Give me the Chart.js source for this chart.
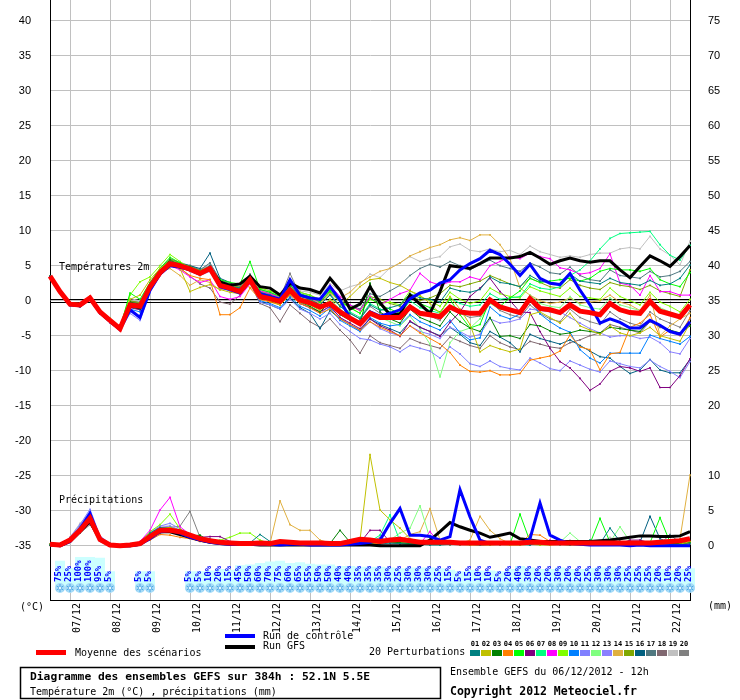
<!DOCTYPE html>
<html><head><meta charset="utf-8">
<script src="https://cdn.jsdelivr.net/npm/chart.js@4.4.1/dist/chart.umd.min.js"></script>
<style>html,body{margin:0;padding:0;background:#fff}canvas{display:block}</style>
</head><body>
<canvas id="c" width="740" height="700"></canvas>
<script>
// ---- categories ----
const leadHours = [0,6,12,18,24,30,36,42,48,54,60,66,72,78,84,90,96,102,108,114,120,126,132,138,144,150,156,162,168,174,180,186,192,198,204,210,216,222,228,234,240,246,252,258,264,270,276,282,288,294,300,306,312,318,324,330,336,342,348,354,360,366,372,378,384];
const dateLabels = ['07/12','08/12','09/12','10/12','11/12','12/12','13/12','14/12','15/12','16/12','17/12','18/12','19/12','20/12','21/12','22/12'];
const leftTicks = [-35,-30,-25,-20,-15,-10,-5,0,5,10,15,20,25,30,35,40];
const rightTicks = [0,5,10,20,25,30,35,40,45,50,55,60,65,70,75];
const pctRain = [null,75,25,100,100,95,5,null,null,5,5,null,null,null,5,5,10,20,15,45,50,60,70,75,60,65,55,50,50,40,40,35,35,35,30,25,30,30,30,25,15,5,15,10,10,5,20,40,30,20,20,30,20,20,25,30,30,30,25,25,25,20,10,20,25];

// ---- temperature 2m (°C) ----
const tMean = [3.5,1.3,-0.5,-0.6,0.4,-1.6,-2.8,-4.0,-0.6,-0.8,2.0,4.0,5.3,5.0,4.5,3.9,4.6,2.2,1.8,1.3,3.0,
 0.6,0.3,-0.1,1.5,0.1,-0.3,-0.9,-0.4, -1.6,-2.5,-3.3,-1.8,-2.4,-2.4,-2.4,-0.9, -1.8,-2.0,-2.3,-0.9,-1.6,-1.8,-1.8,0.1, -0.9,-1.3,-1.7,0.3,-1.1,-1.3,-1.7,-0.6, -1.5,-1.7,-2.0,-0.4,-1.3,-1.7,-1.8,-0.1, -1.5,-1.9,-2.3,-0.6];
const tControl = [3.5,1.3,-0.6,-0.7,0.3,-1.7,-2.9,-4.1,-1.3,-2.4,1.5,3.8,5.0,4.8,4.4,3.8,4.7,2.0,1.6,1.1,3.0,
 1.0,0.6,0.2,3.0,0.8,0.4,0.2,2.0, 0.1,-2.5,-3.2,-1.6,-2.2,-1.8,-1.3,0.3, 1.1,1.5,2.5,3.0,4.4,5.3,6.0,7.2, 6.6,5.2,3.6,5.2,3.2,2.5,2.3,3.9, 1.5,-0.6,-3.2,-2.6,-3.1,-3.9,-3.9,-2.8, -3.5,-4.4,-4.8,-3.0];
const tGfs = [3.5,1.2,-0.5,-0.7,0.3,-1.6,-2.9,-4.1,-0.7,-1.0,1.8,3.9,5.1,4.8,4.5,3.9,4.6,2.7,2.2,2.4,3.5,
 2.0,1.8,0.8,2.5,1.8,1.6,1.1,3.2, 1.5,-1.2,-0.5,2.0,-0.3,-2.0,-1.9,0.8, -0.5,-1.8,1.3,5.0,4.8,4.6,5.3,6.1, 6.1,6.1,6.3,6.9,6.1,5.2,5.7,6.1, 5.7,5.5,5.7,5.7,4.4,3.3,4.9,6.4, 5.7,4.9,6.3,7.9];
const t01 = [3.5,1.2,-0.6,-0.8,0.2,-1.8,-3.0,-4.1,-0.9,-1.2,1.6,4.2,5.6,5.2,4.6,4.0,5.0,2.6,2.0,1.8,3.4,
 1.2,0.8,0.2,2.0,0.6,0.2,-0.6,0.8, -0.8,-1.8,-2.6,-0.6,-1.4,-1.0,-0.6,1.0, 0.4,0.2,-0.2,1.8,1.4,1.2,1.6,3.4, 2.6,2.4,2.0,3.6,2.8,2.6,2.4,3.8, 2.8,2.6,2.4,3.2,2.6,2.4,2.2,2.9, 2.2,2.4,3.2,5.1];
const t02 = [3.5,1.4,-0.4,-0.5,0.6,-1.4,-2.6,-3.8,0.2,0.8,3.0,4.6,5.6,4.6,1.3,1.9,2.3,1.6,1.2,1.0,2.6,
 0.4,0.0,-0.6,1.0,-0.2,-0.6,-1.4,0.2, -0.6,0.6,2.0,3.0,3.2,2.6,2.2,1.4, 0.8,-0.4,-1.8,0.6,-1.2,-3.4,-7.3,-6.4, -6.9,-7.3,-6.9,-2.0,-1.6,-2.4,-3.2,-1.8, -3.6,-4.2,-4.8,-3.6,-4.6,-5.0,-4.6,-3.8, -5.0,-5.4,-5.8,-3.2];
const t03 = [3.5,1.3,-0.5,-0.7,0.5,-1.5,-2.9,-4.1,-0.2,-0.5,2.2,4.4,5.8,5.1,4.8,4.1,4.9,2.8,2.2,1.6,3.6,
 0.8,0.4,-0.4,1.2,-0.2,-0.8,-1.6,-0.2, -2.0,-2.8,-3.4,2.5,-1.6,-2.6,-3.2,-1.2, -2.4,-3.0,-3.6,-1.6,-3.0,-3.9,-4.4,-2.4, -5.1,-5.0,-5.4,-3.4,-3.6,-4.3,-4.8,-4.6, -4.2,-4.4,-4.6,-3.8,-4.0,-4.2,-4.4,-2.8, -3.6,-4.2,-4.6,-3.6];
const t04 = [3.5,1.3,-0.6,-0.6,0.3,-1.7,-2.9,-4.0,-0.8,-1.0,1.8,3.8,5.0,4.6,3.6,3.2,3.0,-2.0,-2.0,-1.0,1.8,
 0.2,-0.2,-0.6,0.8,-0.4,-1.0,-1.8,-1.2, -2.6,-3.4,-4.2,-3.0,-3.8,-4.4,-5.0,-3.6, -4.6,-5.4,-6.2,-7.4,-9.2,-10.1,-10.2,-10.0, -10.6,-10.6,-10.4,-8.5,-8.2,-7.9,-7.2,-4.9, -6.6,-7.0,-9.9,-7.6,-7.4,-3.8,-3.2,-2.0, -5.2,-4.2,-5.0,-2.4];
const t05 = [3.5,1.4,-0.4,-0.5,0.5,-1.5,-2.7,-3.9,1.1,0.2,2.6,4.6,6.2,5.4,4.7,4.2,4.8,3.0,2.6,2.4,5.6,
 1.6,1.2,0.6,2.2,1.0,0.6,-0.2,1.4, 0.0,-1.0,-1.8,0.4,-0.6,-1.2,-1.8,0.6, -0.4,-1.0,-1.6,0.2,-2.0,-3.9,-3.4,0.1, -0.8,0.4,1.4,3.2,2.6,2.8,3.0,3.2, 2.8,3.2,4.2,4.6,4.4,4.4,4.2,4.6, 3.0,2.4,2.0,4.0];
const t06 = [3.5,1.2,-0.7,-0.8,0.2,-1.8,-3.1,-4.2,-1.0,-1.3,1.7,3.9,5.2,4.9,4.4,3.8,4.5,2.0,1.6,1.0,2.8,
 0.4,0.0,-0.6,1.0,-0.4,-1.0,-1.6,-0.8, -2.4,-3.2,-4.0,-2.6,-3.6,-4.2,-5.1,-2.9, -3.8,-4.4,-5.1,-3.1,-1.6,0.6,1.8,3.2, 1.3,0.0,-1.6,-1.7,-4.4,-6.8,-8.7,-9.6, -11.1,-12.8,-11.9,-10.1,-9.4,-9.6,-10.1,-9.6, -12.4,-12.4,-10.7,-8.3];
const t07 = [3.5,1.3,-0.5,-0.6,0.4,-1.6,-2.8,-4.0,-0.4,-0.6,2.3,4.2,5.4,5.0,4.3,3.6,4.4,2.4,1.9,1.5,3.2,
 1.0,0.6,0.0,1.8,0.4,0.0,-0.6,0.8, -0.8,-1.6,-2.4,-0.4,-1.2,-1.6,-2.0,0.0, -1.0,-1.4,-1.8,0.4,-0.4,-0.8,-0.6,1.0, 0.2,0.4,0.6,2.4,1.8,1.6,2.0,3.6, 4.4,5.7,7.4,8.9,9.6,9.7,9.8,9.9, 8.0,6.5,5.8,7.9];
const t08 = [3.5,1.4,-0.5,-0.6,0.5,-1.6,-2.8,-4.0,-0.3,-0.5,2.0,4.0,5.0,4.4,3.4,2.6,3.0,0.6,0.2,0.6,2.4,
 1.4,1.0,0.4,2.2,0.8,0.4,-0.2,2.2, 0.6,-0.6,-1.4,0.6,-0.6,0.2,1.0,1.5, 3.9,2.7,2.2,2.7,2.7,3.4,3.0,5.0, 5.6,6.3,6.0,6.8,6.3,6.0,4.7,4.4, 3.8,4.0,4.6,6.7,2.5,2.2,0.8,3.6, 1.3,1.3,0.8,0.8];
const t09 = [3.5,1.4,-0.3,-0.4,0.7,-1.3,-2.5,-3.7,0.8,2.7,3.4,5.0,6.6,5.6,4.6,3.8,4.4,2.2,1.5,1.4,3.0,
 1.8,1.4,0.8,2.6,1.2,0.8,0.2,1.6, -0.2,-1.0,-1.8,0.2,-0.4,-0.2,-0.6,1.4, 0.6,0.0,-0.8,1.2,0.2,-0.4,0.0,1.8, 1.0,0.6,0.4,2.0,1.4,1.0,0.6,1.8, 0.6,0.4,0.2,1.8,0.6,0.0,-0.6,1.2, -0.2,-0.8,-1.6,0.2];
const t10 = [3.5,1.2,-0.6,-0.7,0.3,-1.7,-3.0,-4.1,-1.2,-1.6,1.5,3.9,5.2,5.0,4.6,3.9,4.7,2.4,1.8,1.2,2.9,
 0.0,-0.4,-1.0,0.6,-0.8,-1.4,-2.2,-1.0, -2.8,-3.6,-4.4,-2.4,-3.2,-3.6,-3.4,-2.0, -3.0,-3.6,-4.2,-2.8,-4.6,-5.6,-5.3,-0.9, -2.1,-2.6,-1.9,0.1,-1.9,-3.0,-3.9,-4.5, -7.0,-8.2,-8.9,-7.5,-7.5,-7.5,-7.5,-4.9, -5.4,-5.8,-6.2,-5.1];
const t11 = [3.5,1.2,-0.7,-0.9,0.2,-1.9,-3.2,-4.3,-1.8,-2.8,1.2,3.6,5.0,4.8,4.2,3.6,4.2,1.8,1.4,0.9,2.7,
 -0.2,-0.6,-1.2,0.2,-1.2,-1.8,-2.6,-1.8, -3.4,-4.4,-5.4,-5.6,-6.2,-6.6,-7.3,-6.4, -6.8,-7.2,-8.2,-6.6,-7.6,-9.0,-9.4,-8.6, -9.4,-9.7,-9.9,-8.2,-8.9,-9.7,-10.0,-8.6, -9.2,-9.8,-10.2,-8.6,-9.0,-9.4,-9.6,-8.5, -9.4,-10.1,-11.0,-8.7];
const t12 = [3.5,1.3,-0.5,-0.6,0.4,-1.6,-2.8,-4.0,-0.5,-0.7,2.1,4.1,5.4,5.0,4.5,3.9,4.5,2.1,1.7,1.3,3.1,
 0.8,0.4,-0.2,1.4,0.0,-0.6,-1.2,0.2, -1.2,-2.2,-3.0,-1.4,-2.4,-3.0,-3.6,-2.2, -4.0,-6.2,-10.9,-6.0,-4.4,-3.9,-2.6,-0.4, -1.2,-1.4,-1.8,0.8,-0.4,-0.8,-1.0,0.6, -0.6,-1.0,-1.2,0.4,-0.6,-1.0,-1.4,0.2, -1.0,-1.6,-2.2,-0.8];
const t13 = [3.5,1.2,-0.6,-0.8,0.3,-1.8,-3.0,-4.2,-1.5,-2.2,1.4,3.8,5.1,4.8,4.3,3.7,4.3,1.9,1.5,1.0,2.6,
 0.6,0.2,-0.4,1.2,-0.4,-1.0,-1.8,-0.8, -2.4,-3.4,-4.4,-3.0,-4.0,-4.6,-5.0,-3.6, -4.4,-4.8,-5.4,-3.8,-4.4,-5.2,-4.8,-2.6, -3.2,-3.0,-2.6,-1.2,-1.4,-1.6,-1.6,-2.4, -3.2,-4.0,-4.6,-5.2,-5.0,-5.0,-5.4,-5.2, -6.0,-7.3,-7.6,-5.4];
const t14 = [3.5,1.4,-0.4,-0.5,0.5,-1.5,-2.7,-3.9,-0.3,-0.4,2.2,4.1,4.6,3.6,2.2,3.0,2.6,1.5,2.0,2.5,1.9,
 1.2,0.8,0.2,1.8,0.6,0.2,-0.4,1.0, 0.4,1.2,2.6,3.4,4.2,4.6,5.4,6.4, 7.0,7.6,8.0,8.7,9.0,8.6,9.4,9.4, 8.0,6.0,1.8,0.8,0.0,-0.4,-0.2,0.4, -0.4,-0.2,0.0,0.8,-0.2,-0.6,-1.4,0.8, -5.0,-3.6,-2.6,-1.8];
const t15 = [3.5,1.3,-0.5,-0.6,0.4,-1.6,-2.8,-4.0,0.0,-0.3,2.4,4.5,5.9,5.3,4.9,4.3,4.9,2.7,2.3,1.9,3.4,
 1.4,1.0,0.4,2.0,0.8,0.4,-0.2,1.2, -0.2,-0.8,-1.4,0.6,0.2,-0.4,-0.8,1.0, 0.0,0.4,1.0,2.2,2.0,2.4,2.8,3.6, 3.0,2.4,2.0,3.2,2.6,2.0,1.8,3.0, 2.2,1.8,1.6,2.6,2.2,2.0,1.6,2.2, 1.4,1.0,0.6,4.4];
const t16 = [3.5,1.3,-0.5,-0.7,0.4,-1.6,-2.9,-4.0,-0.6,-0.8,2.0,4.1,5.5,5.3,5.0,4.6,6.8,3.2,2.6,1.7,3.5,
 -0.2,-0.6,-1.2,0.4,-1.0,-1.8,-4.0,-1.4, -2.6,-3.4,-4.2,-2.6,-3.4,-4.0,-4.6,-3.0, -3.8,-4.4,-5.0,-3.8,-4.8,-6.0,-6.4,-4.4, -5.2,-6.0,-7.3,-4.8,-5.4,-5.8,-6.2,-5.6, -6.4,-7.2,-8.0,-8.2,-9.4,-10.4,-9.9,-8.4, -9.9,-10.3,-10.3,-8.4];
const t17 = [3.5,1.3,-0.4,-0.5,0.5,-1.5,-2.7,-3.9,-0.1,-0.2,2.5,4.6,6.0,5.4,5.0,4.4,5.4,3.0,2.4,2.0,3.8,
 1.6,1.2,0.6,2.4,1.2,0.8,0.0,1.6, 0.2,-0.6,-1.2,1.0,0.6,1.4,2.2,3.6, 4.6,5.2,4.8,5.6,5.0,4.4,5.2,5.8, 5.0,4.6,4.2,5.4,4.8,4.0,3.8,4.8, 3.6,3.0,2.8,4.4,3.6,3.4,3.2,4.2, 3.4,3.6,4.2,5.6];
const t18 = [3.5,1.2,-0.6,-0.8,0.3,-1.7,-2.9,-4.1,-0.8,-1.0,1.9,3.9,5.0,4.7,3.5,2.4,1.8,-0.2,-0.5,0.8,2.5,
 -0.4,-1.0,-3.0,-0.6,-1.8,-3.0,-3.8,-2.6, -4.2,-5.6,-7.5,-5.0,-6.0,-6.4,-6.8,-5.4, -6.0,-6.4,-6.8,-5.2,-5.8,-6.4,-6.8,-5.0, -6.0,-6.6,-7.0,-5.8,-6.2,-6.6,-6.8,-6.0, -5.6,-5.0,-4.6,-3.4,-3.8,-4.2,-4.6,-3.0, -3.8,-4.2,-4.8,-2.6];
const t19 = [3.5,1.4,-0.4,-0.4,0.6,-1.4,-2.6,-3.8,0.3,0.0,2.6,4.6,6.0,5.5,5.0,4.5,5.2,3.0,2.5,2.1,3.6,
 1.8,1.4,0.8,2.8,1.4,1.2,0.8,2.4, 1.4,2.0,2.4,3.8,3.3,4.7,5.4,6.3, 5.6,6.0,6.3,7.7,8.1,7.2,7.0,7.4, 7.0,7.2,6.6,7.8,7.0,6.6,6.2,6.4, 6.2,6.6,6.8,6.8,7.4,7.6,7.4,9.2, 7.4,6.5,5.1,8.5];
const t20 = [3.5,1.3,-0.5,-0.6,0.4,-1.6,-2.8,-4.0,-0.2,-0.4,2.2,4.3,5.7,5.2,4.9,4.4,5.1,2.9,2.3,1.8,3.3,
 1.2,1.0,0.4,3.9,0.8,0.2,-0.4,1.0, -0.8,-1.8,-2.6,-0.8,-1.8,-2.2,-2.6,-0.6, -1.6,-2.2,-2.8,-0.8,-1.8,-2.4,-2.2,-0.2, -1.4,-2.0,-2.4,-0.6,-1.8,-2.6,-3.0,-1.2, -2.4,-3.0,-3.4,-1.6,-2.6,-3.2,-3.6,-1.6, -2.6,-3.2,-3.8,-1.4];

// ---- precipitation (mm) ----
const pMean = [0.2,0.1,0.8,2.2,3.9,0.9,0.1,0.0,0.1,0.3,1.3,2.2,2.2,2.0,1.5,1.0,0.7,0.5,0.4,0.3,0.3,
 0.4,0.3,0.6,0.5,0.4,0.4,0.4,0.3, 0.3,0.6,0.9,0.8,0.6,0.8,0.9,0.7, 0.5,0.5,0.5,0.5,0.4,0.4,0.4,0.4, 0.4,0.4,0.4,0.5,0.5,0.4,0.4,0.4, 0.4,0.4,0.4,0.4,0.4,0.4,0.4,0.4, 0.5,0.6,0.7,1.0];
const pControl = [0.1,0.0,0.6,2.4,4.6,0.8,0.1,0.0,0.0,0.2,1.0,2.0,2.2,1.8,1.2,0.8,0.5,0.3,0.2,0.2,0.2,
 0.2,0.2,0.1,0.2,0.2,0.1,0.1,0.1, 0.1,0.2,0.3,0.5,0.8,3.2,5.3,1.5, 1.5,1.3,0.8,1.3,8.0,4.1,0.8,0.3, 0.3,0.3,0.3,1.0,6.1,1.5,0.8,0.3, 0.2,0.1,0.1,0.1,0.1,0.0,0.1,0.0, 0.0,0.0,0.0,0.0];
const pGfs = [0.2,0.0,0.6,2.0,3.5,0.8,0.1,0.0,0.0,0.2,1.2,2.0,2.0,1.6,1.2,0.8,0.5,0.3,0.2,0.2,0.2,
 0.1,0.1,0.1,0.1,0.1,0.1,0.1,0.1, 0.1,0.1,0.1,0.1,0.0,0.0,0.0,0.0, 0.0,0.8,2.0,3.3,2.7,2.2,1.8,1.2, 1.5,1.8,1.0,0.8,0.6,0.6,0.6,0.6, 0.6,0.6,0.7,0.8,1.0,1.2,1.4,1.4, 1.3,1.3,1.4,2.0];
const p01 = [0.1,0.0,1.0,2.6,4.2,1.2,0.3,0.0,0.0,0.3,1.8,2.6,2.4,2.0,1.2,0.8,0.5,0.4,0.3,0.2,0.4,
 1.6,0.6,0.3,0.2,0.2,0.3,0.1,0.2, 0.3,0.2,0.1,0.1,0.2,0.4,0.3,0.2, 0.2,0.1,0.1,0.2,0.3,0.2,0.1,0.2, 0.3,0.4,0.2,0.1,0.5,0.3,0.2,0.1, 0.4,0.8,0.3,2.5,0.6,0.3,0.2,0.1, 0.3,0.2,0.1,0.3];
const p02 = [0.2,0.0,0.9,2.0,3.6,1.0,0.2,0.0,0.0,0.2,1.0,2.4,2.6,2.2,1.4,0.9,0.6,0.4,0.2,0.1,0.2,
 0.2,0.1,0.1,0.3,0.2,0.2,0.1,0.3, 0.3,0.5,0.8,13.0,5.1,3.7,2.5,1.0, 0.6,0.4,0.3,0.2,0.2,0.1,0.1,0.1, 0.2,0.1,0.1,0.2,0.1,0.1,0.2,0.1, 0.1,0.2,0.1,0.1,0.2,0.1,0.1,0.2, 0.1,0.1,0.2,0.6];
const p03 = [0.1,0.0,0.7,2.0,3.4,0.8,0.2,0.0,0.0,0.3,1.6,2.0,2.0,1.8,1.4,1.5,0.6,0.4,0.3,0.3,0.3,
 0.3,0.2,0.2,0.2,0.3,0.2,0.2,0.3, 2.2,0.5,0.3,0.4,0.6,0.6,0.4,0.3, 0.3,0.2,0.2,0.3,0.2,0.2,0.3,0.2, 0.2,0.3,0.2,0.3,0.2,0.2,0.3,0.2, 0.3,0.2,0.5,0.3,0.2,0.3,0.2,0.3, 0.4,0.3,0.3,0.5];
const p04 = [0.1,0.0,0.8,2.4,3.8,1.0,0.2,0.0,0.0,0.2,0.8,1.6,1.5,1.2,1.0,0.6,0.4,0.3,0.2,0.2,0.2,
 0.2,0.1,0.2,0.1,0.2,0.2,0.1,0.2, 0.1,0.2,0.3,0.4,0.3,0.6,0.4,0.3, 0.2,0.2,0.2,0.2,0.3,0.2,0.2,0.2, 0.2,0.3,0.3,1.6,1.5,0.6,0.3,0.2, 0.2,0.2,0.2,0.3,0.2,0.2,0.2,0.3, 0.2,0.2,0.2,0.3];
const p05 = [0.1,0.0,0.8,2.2,3.6,0.9,0.2,0.0,0.0,0.3,1.4,2.4,2.6,2.0,1.4,1.0,0.7,0.4,0.3,0.3,0.4,
 0.3,0.2,0.3,0.2,0.2,0.3,0.2,0.2, 0.2,0.3,0.2,0.3,0.4,0.5,0.3,0.2, 0.2,0.3,0.2,0.3,0.2,0.2,0.3,0.2, 0.3,0.2,4.5,0.6,0.3,0.2,0.2,0.3, 0.2,0.3,3.9,0.5,0.3,0.2,0.3,0.4, 4.0,0.5,0.3,0.4];
const p06 = [0.2,0.0,0.7,2.0,3.2,1.0,0.2,0.0,0.0,0.2,1.0,2.0,2.0,1.8,1.4,1.2,1.3,1.3,0.6,0.3,0.3,
 0.2,0.2,0.2,0.1,0.2,0.2,0.1,0.2, 0.2,0.3,0.4,2.2,2.2,0.5,0.3,0.2, 0.2,0.2,0.3,0.2,0.2,0.2,0.3,0.2, 0.2,0.2,0.3,0.2,0.2,0.2,0.3,0.2, 0.2,0.3,0.2,0.2,0.3,0.8,0.8,0.4, 0.3,0.4,0.3,0.3];
const p07 = [0.1,0.0,0.9,2.4,4.0,1.1,0.2,0.0,0.0,0.3,1.5,2.4,2.4,2.0,1.4,0.9,0.6,0.4,0.3,0.2,0.3,
 0.3,0.2,0.2,0.3,0.2,0.2,0.3,0.2, 0.2,0.3,0.4,0.6,1.5,4.4,0.6,0.3, 0.2,0.3,0.2,0.2,0.3,0.2,0.2,0.3, 0.2,0.2,0.3,0.2,0.2,0.3,0.2,0.2, 0.3,0.2,0.2,0.5,0.6,0.3,0.2,0.2, 0.3,0.2,0.2,0.4];
const p08 = [0.1,0.0,0.8,2.2,4.4,1.0,0.2,0.0,0.0,0.6,2.2,5.1,6.9,2.7,1.6,1.0,0.7,0.5,0.3,0.2,0.3,
 0.2,0.2,0.3,0.2,0.2,0.3,0.2,0.2, 0.2,0.3,0.2,0.3,0.3,0.8,1.2,0.4, 0.3,2.0,0.3,0.2,0.3,0.2,0.2,0.2, 0.2,0.3,0.2,0.2,0.2,0.8,0.4,0.2, 0.2,0.3,0.2,0.2,0.2,0.3,0.2,0.2, 0.3,0.2,0.2,0.4];
const p09 = [0.2,0.0,0.9,2.6,4.2,1.2,0.2,0.0,0.0,0.4,2.0,3.0,4.5,2.4,1.6,1.0,0.6,0.8,1.2,1.8,1.8,
 0.8,0.3,0.2,0.2,0.3,0.2,0.2,0.3, 0.2,0.2,0.3,0.4,0.5,0.6,0.4,0.3, 0.2,0.2,0.3,0.2,0.2,0.3,0.2,0.2, 0.2,0.2,0.2,0.3,0.2,0.2,0.3,0.2, 0.2,0.3,0.3,0.2,0.3,0.2,0.2,0.3, 0.2,0.2,0.3,0.4];
const p10 = [0.1,0.0,0.6,2.4,4.8,1.0,0.2,0.0,0.0,0.2,1.2,2.0,2.2,1.8,1.2,0.8,0.5,0.3,0.2,0.2,0.3,
 0.2,0.2,0.2,0.2,0.1,0.2,0.2,0.1, 0.2,0.2,0.3,0.4,0.6,0.5,0.5,0.4, 0.3,0.2,0.2,0.2,0.2,0.2,0.2,0.2, 0.2,0.3,0.2,0.2,0.2,0.2,0.2,0.2, 0.2,0.2,0.2,0.2,0.3,0.2,0.2,0.2, 0.2,0.2,0.2,0.3];
const p11 = [0.2,0.0,1.2,3.0,5.2,1.4,0.3,0.0,0.0,0.4,1.8,2.8,3.2,2.4,1.6,1.0,0.6,0.4,0.3,0.2,0.3,
 0.3,0.2,0.2,0.3,0.2,0.2,0.2,0.3, 0.2,0.2,0.3,0.5,0.7,0.6,0.5,0.3, 0.3,0.2,0.2,0.3,0.2,0.2,0.3,0.2, 0.2,0.2,0.3,0.2,0.2,0.3,0.2,0.2, 0.2,0.3,0.2,0.2,0.3,0.2,0.3,0.2, 0.2,0.3,0.3,0.3];
const p12 = [0.1,0.0,0.8,2.2,3.8,1.0,0.2,0.0,0.0,0.3,1.4,2.2,2.4,2.0,1.4,0.9,0.6,0.4,0.3,0.2,0.3,
 0.2,0.3,0.2,0.2,0.3,0.2,0.2,0.3, 0.2,0.3,0.3,0.4,0.6,0.8,1.8,2.5, 5.7,1.0,0.4,0.3,0.2,0.3,0.2,0.2, 0.2,0.3,0.2,0.3,0.2,0.3,0.5,1.8, 0.6,0.3,0.4,0.5,2.7,0.6,0.3,0.2, 0.3,0.2,0.3,0.4];
const p13 = [0.2,0.0,1.0,2.8,5.0,1.2,0.3,0.0,0.0,0.3,1.6,2.6,2.8,2.2,1.6,1.0,0.6,0.4,0.3,0.2,0.3,
 0.3,0.2,0.2,0.2,0.3,0.2,0.2,0.2, 0.3,0.2,0.3,0.5,0.6,0.5,0.4,0.3, 0.2,0.2,0.3,0.2,0.2,0.2,0.2,0.3, 0.2,0.2,0.2,0.2,0.3,0.2,0.2,0.2, 0.3,0.2,0.2,0.3,0.2,0.2,0.5,0.3, 0.2,0.3,0.2,0.4];
const p14 = [0.1,0.0,0.8,2.2,3.6,0.9,0.2,0.0,0.0,0.3,1.2,2.0,2.2,1.8,1.3,0.9,0.6,0.4,0.3,0.2,0.3,
 0.2,0.3,6.4,3.0,2.2,2.2,0.8,0.4, 0.3,0.4,0.5,0.6,0.5,0.6,0.8,1.6, 2.0,5.3,0.8,0.3,0.3,0.8,4.2,2.2, 1.0,0.3,0.2,0.2,0.3,0.2,0.2,0.2, 0.3,0.2,0.2,0.2,0.3,0.2,0.2,0.3, 0.2,0.2,1.0,10.1];
const p15 = [0.2,0.0,0.7,2.0,3.4,0.9,0.2,0.0,0.0,0.3,1.4,2.2,2.2,1.9,1.4,1.0,0.6,0.4,0.3,0.2,0.3,
 0.2,0.3,0.2,0.2,0.3,0.2,0.2,0.3, 0.2,0.3,0.2,0.3,0.4,0.5,0.4,0.3, 0.2,0.3,0.2,0.2,0.3,0.2,0.2,0.3, 0.2,0.2,0.3,0.2,0.2,0.3,0.2,0.2, 0.3,0.2,0.2,0.3,0.2,0.2,0.3,0.2, 0.2,0.3,0.2,0.3];
const p16 = [0.1,0.0,0.8,2.4,4.0,1.0,0.2,0.0,0.0,0.3,1.6,2.4,2.4,2.0,1.4,0.9,0.6,0.4,0.3,0.2,0.3,
 0.2,0.2,0.3,0.2,0.2,0.3,0.2,0.2, 0.2,0.3,0.3,0.4,0.5,0.4,0.4,0.3, 0.2,0.2,0.3,0.2,0.2,0.3,0.2,0.2, 0.2,0.2,0.3,0.2,0.2,0.2,0.3,0.2, 0.2,0.3,0.2,0.4,0.6,0.3,0.5,4.2, 1.0,0.4,0.3,0.3];
const p17 = [0.2,0.0,1.0,2.8,4.4,1.1,0.2,0.0,0.0,0.3,1.8,2.6,2.6,2.2,1.5,1.0,0.6,0.4,0.3,0.2,0.3,
 0.3,0.2,0.2,0.3,0.2,0.2,0.3,0.2, 0.2,0.3,0.4,0.6,0.5,0.6,0.4,0.3, 0.2,0.2,0.3,0.2,0.3,0.2,0.2,0.3, 0.2,0.3,0.2,0.3,0.2,0.2,0.3,0.2, 0.3,0.2,0.3,0.2,0.3,0.2,0.2,0.3, 0.2,1.6,0.4,0.3];
const p18 = [0.1,0.0,0.6,1.8,3.0,0.8,0.2,0.0,0.0,0.2,1.2,1.8,2.0,1.6,1.2,0.8,0.5,0.3,0.2,0.2,0.2,
 0.2,0.2,0.2,0.2,0.2,0.2,0.2,0.2, 0.2,0.2,0.3,0.4,0.4,0.4,0.3,0.3, 0.2,0.2,0.2,0.2,0.2,0.2,0.2,0.2, 0.2,0.2,0.2,0.2,0.2,0.2,0.2,0.2, 0.2,0.2,0.2,0.2,0.2,0.2,0.2,0.2, 0.2,0.2,0.2,0.3];
const p19 = [0.2,0.0,1.2,3.2,4.6,1.2,0.3,0.0,0.0,0.4,2.0,2.8,2.8,2.2,1.6,1.0,0.6,0.4,0.3,0.2,0.3,
 0.2,0.2,0.2,0.2,0.3,0.2,0.2,0.2, 0.2,0.2,0.3,0.4,1.0,0.5,0.4,0.3, 0.2,0.3,0.2,0.2,0.3,0.2,0.2,0.2, 0.2,0.2,0.3,0.2,0.2,0.3,0.2,0.8, 0.3,0.3,0.2,1.2,0.4,0.3,0.2,0.3, 0.8,0.3,0.4,0.4];
const p20 = [0.1,0.0,0.9,2.6,4.0,1.1,0.2,0.0,0.0,0.3,1.6,2.4,2.6,2.8,4.9,1.2,1.0,0.5,0.3,0.2,0.3,
 0.3,0.2,0.2,0.3,0.2,0.2,0.3,0.2, 0.2,0.3,0.3,0.4,1.2,0.5,0.4,0.3, 0.2,0.2,0.3,0.2,0.2,0.3,0.2,0.2, 0.2,0.3,0.2,0.2,0.2,0.2,0.3,0.2, 0.2,0.3,0.3,0.2,0.2,0.3,0.2,0.2, 0.2,0.3,0.2,0.5];

// ---- styles ----
const memberColors = ['#008080','#c0c000','#008000','#ff8000','#00ff00','#800080','#00ff80','#ff00ff','#80ff00','#0080ff','#8080ff','#80ff80','#8a80ff','#e0b040','#80a800','#006080','#507880','#806870','#c0c0c0','#808080'];
const tempMembers = [t01,t02,t03,t04,t05,t06,t07,t08,t09,t10,t11,t12,t13,t14,t15,t16,t17,t18,t19,t20];
const precipMembers = [p01,p02,p03,p04,p05,p06,p07,p08,p09,p10,p11,p12,p13,p14,p15,p16,p17,p18,p19,p20];
const MONO = '"DejaVu Sans Mono", monospace';

const datasets = [];
function addSet(data, axis, color, width, order, pr) {
  datasets.push({ data, yAxisID: axis, borderColor: color, backgroundColor: color, borderWidth: width,
    pointRadius: pr, pointStyle: 'rect', pointBorderWidth: 0, pointBackgroundColor: color,
    order, tension: 0, fill: false, spanGaps: true });
}
tempMembers.forEach((d, k) => addSet(d, 'y', memberColors[k], 1, 3, 1.2));
precipMembers.forEach((d, k) => addSet(d, 'y2', memberColors[k], 1, 3, 1.2));
addSet(tGfs, 'y', '#000000', 3, 2, 0);
addSet(pGfs, 'y2', '#000000', 3, 2, 0);
addSet(tControl, 'y', '#0000ff', 3, 1, 0);
addSet(pControl, 'y2', '#0000ff', 3, 1, 0);
addSet(tMean, 'y', '#ff0000', 5, 0, 0);
addSet(pMean, 'y2', '#ff0000', 5, 0, 0);

function flake(ctx, cx, cy) {
  ctx.fillStyle = '#a6dbf7';
  ctx.beginPath(); ctx.arc(cx, cy, 5, 0, Math.PI * 2); ctx.fill();
  ctx.strokeStyle = '#4aa6e6'; ctx.lineWidth = 1;
  for (let k = 0; k < 3; k++) {
    const ang = k * Math.PI / 3 + Math.PI / 2;
    ctx.beginPath();
    ctx.moveTo(cx + 4 * Math.cos(ang), cy + 4 * Math.sin(ang));
    ctx.lineTo(cx - 4 * Math.cos(ang), cy - 4 * Math.sin(ang));
    ctx.stroke();
  }
  ctx.fillStyle = '#e8f8ff'; ctx.fillRect(cx - 1, cy - 1, 2, 2);
}

function noPad(s) { s.paddingTop = 0; s.paddingBottom = 0; s.paddingLeft = 0; s.paddingRight = 0; }

const overlay = {
  id: 'overlay',
  beforeDatasetsDraw(chart) {
    const { ctx, chartArea: a, scales } = chart;
    const x = scales.x, y = scales.y;
    ctx.save();
    const y0 = y.getPixelForValue(0);
    ctx.strokeStyle = '#000'; ctx.lineWidth = 1;
    for (const d of [-1.5, 1.5]) {
      const yy = Math.round(y0 + d) + 0.5;
      ctx.beginPath(); ctx.moveTo(a.left, yy); ctx.lineTo(a.right, yy); ctx.stroke();
    }
    ctx.fillStyle = '#000'; ctx.font = '10px ' + MONO; ctx.textAlign = 'left'; ctx.textBaseline = 'middle';
    ctx.fillText('Températures 2m', a.left + 9, y.getPixelForValue(4.8));
    ctx.fillText('Précipitations', a.left + 9, y.getPixelForValue(-28.6));
    const base = a.bottom;
    ctx.fillStyle = '#ccffff';
    pctRain.forEach((p, i) => {
      if (p == null) return;
      const cx = x.getPixelForValue(i);
      const top = base - 28 - 0.15 * p;
      ctx.fillRect(cx - 5, top, 10, base - 10 - top);
    });
    pctRain.forEach((p, i) => { if (p != null) flake(ctx, x.getPixelForValue(i), base - 12); });
    ctx.fillStyle = '#0000ff'; ctx.font = 'bold 9px ' + MONO; ctx.textAlign = 'left'; ctx.textBaseline = 'middle';
    pctRain.forEach((p, i) => {
      if (p == null) return;
      ctx.save();
      ctx.translate(x.getPixelForValue(i) - 1.5, base - 18);
      ctx.rotate(-Math.PI / 2);
      ctx.fillText(p + '%', 0, 0);
      ctx.restore();
    });
    ctx.restore();
  },
  afterDraw(chart) {
    const ctx = chart.ctx;
    ctx.save();
    ctx.fillStyle = '#000'; ctx.textBaseline = 'middle'; ctx.textAlign = 'left';
    ctx.font = '10px ' + MONO;
    ctx.fillText('(°C)', 20, 607);
    ctx.fillText('(mm)', 708, 606);
    ctx.fillStyle = '#ff0000'; ctx.fillRect(36, 650, 30, 5);
    ctx.fillStyle = '#0000ff'; ctx.fillRect(225, 634, 30, 4);
    ctx.fillStyle = '#000000'; ctx.fillRect(225, 645, 30, 4);
    ctx.fillText('Moyenne des scénarios', 75, 653);
    ctx.fillText('Run de contrôle', 263, 636);
    ctx.fillText('Run GFS', 263, 646);
    ctx.fillText('20 Perturbations', 369, 652);
    memberColors.forEach((c, k) => {
      const bx = 470 + 11 * k;
      ctx.fillStyle = c; ctx.fillRect(bx, 650, 10, 6);
      ctx.fillStyle = '#000'; ctx.font = 'bold 7px ' + MONO; ctx.textAlign = 'center';
      ctx.fillText(String(k + 1).padStart(2, '0'), bx + 5, 644);
    });
    ctx.textAlign = 'left';
    ctx.strokeStyle = '#000'; ctx.lineWidth = 1.5;
    ctx.strokeRect(20.5, 667.5, 420, 31);
    ctx.fillStyle = '#000';
    ctx.font = 'bold 11.3px ' + MONO;
    ctx.fillText('Diagramme des ensembles GEFS sur 384h : 52.1N 5.5E', 30, 677);
    ctx.font = '10px ' + MONO;
    ctx.fillText('Température 2m (°C) , précipitations (mm)', 30, 692);
    ctx.fillText('Ensemble GEFS du 06/12/2012 - 12h', 450, 672);
    ctx.font = 'bold 11.5px ' + MONO;
    ctx.fillText('Copyright 2012 Meteociel.fr', 450, 692);
    ctx.restore();
  }
};

new Chart(document.getElementById('c'), {
  type: 'line',
  data: { labels: leadHours, datasets },
  options: {
    responsive: false, animation: false, devicePixelRatio: 1,
    layout: { padding: 0, autoPadding: false },
    plugins: { legend: { display: false }, tooltip: { enabled: false } },
    scales: {
      x: {
        type: 'category', offset: false,
        grid: { color: '#c0c0c0', drawTicks: false },
        border: { color: '#000' },
        afterBuildTicks: s => { s.ticks = s.ticks.filter(t => t.value >= 2 && (t.value - 2) % 4 === 0); },
        afterFit: s => { s.height = 100; noPad(s); },
        ticks: { autoSkip: false, minRotation: 90, maxRotation: 90, labelOffset: 7, padding: 3, color: '#000',
          font: { family: 'DejaVu Sans Mono', size: 10 },
          callback: v => dateLabels[(v - 2) / 4] }
      },
      y: {
        position: 'left', min: -42.76, max: 42.96,
        afterBuildTicks: s => { s.ticks = leftTicks.map(v => ({ value: v })); },
        afterFit: s => { s.width = 50; noPad(s); },
        grid: { color: '#c0c0c0', drawTicks: false },
        border: { color: '#000' },
        ticks: { padding: 19, color: '#000', font: { family: 'Liberation Sans', size: 11 } }
      },
      y2: {
        position: 'right', min: -7.76, max: 77.96,
        afterBuildTicks: s => { s.ticks = rightTicks.map(v => ({ value: v })); },
        afterFit: s => { s.width = 50; noPad(s); },
        grid: { display: false, drawTicks: false },
        border: { color: '#000' },
        ticks: { padding: 18, color: '#000', font: { family: 'Liberation Sans', size: 11 } }
      }
    }
  },
  plugins: [overlay]
});
</script>
</body></html>
